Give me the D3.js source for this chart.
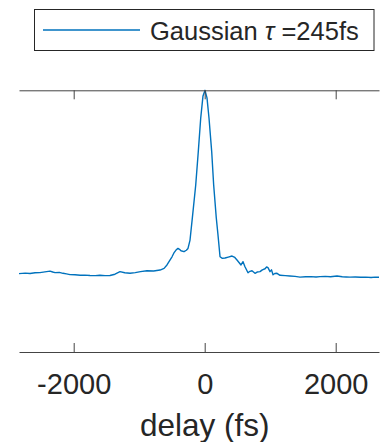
<!DOCTYPE html>
<html>
<head>
<meta charset="utf-8">
<script src="https://cdn.jsdelivr.net/npm/d3@7"></script>
<style>
  body { margin: 0; background: #fff; }
  svg { display: block; font-family: "Liberation Sans", Arial, sans-serif; }
</style>
</head>
<body>
<script>
// delay (fs) and normalised signal
const delay = [-2835, -2740, -2667, -2590, -2515, -2440, -2362, -2320, -2285, -2220, -2163, -2110, -2056, -1980, -1900,
  -1830, -1751, -1670, -1600, -1520, -1446, -1370, -1293, -1220, -1140, -1060, -980, -881, -780, -682, -620, -576,
  -540, -499, -470, -438, -408, -385, -362, -316, -280, -255, -224, -189, -137, -98, -61, -26, 5, 35, 66, 107, 137,
  177, 203, 234, 270, 310, 360, 417, 460, 493, 554, 585, 615, 661, 690, 722, 768, 800, 844, 880, 921, 945, 966, 997,
  1020, 1043, 1070, 1104, 1150, 1230, 1300, 1380, 1455, 1540, 1620, 1700, 1760, 1840, 1920, 2020, 2100, 2160, 2218,
  2300, 2380, 2460, 2540, 2600, 2661]
const signal = [-0.009, -0.006, -0.008, -0.004, -0.003, 0.001, 0.005, 0.0, -0.003, -0.002, -0.007, -0.01, -0.014, -0.015, -0.018,
  -0.017, -0.019, -0.02, -0.018, -0.02, -0.019, -0.012, 0.002, -0.004, -0.007, -0.003, 0.002, 0.007, 0.006, 0.011, 0.02, 0.039,
  0.06, 0.084, 0.105, 0.121, 0.13, 0.125, 0.117, 0.112, 0.12, 0.13, 0.176, 0.297, 0.479, 0.662, 0.846, 0.969, 1.0, 0.958, 0.846, 0.662, 0.479,
  0.297, 0.204, 0.084, 0.075, 0.077, 0.082, 0.088, 0.08, 0.066, 0.039, 0.057, 0.029, -0.004, 0.004, 0.007, -0.007, 0.0, 0.002, 0.012, 0.018, 0.028, 0.024, 0.002,
  0.012, -0.015, -0.008, -0.007, -0.018, -0.02, -0.022, -0.024, -0.028, -0.026, -0.025, -0.027, -0.025, -0.024, -0.026, -0.022, -0.026, -0.027, -0.028,
  -0.027, -0.029, -0.028, -0.03, -0.028, -0.029]
const xTicks = [-2000, 0, 2000]
const legendLabel = "Gaussian "
const legendTau = "\u03c4"
const legendRest = " =245fs"

const width = 383
const height = 442
const mLeft = 19, mRight = 379, mTop = 90.3, mBottom = 352
const blue = "#0072BD"
const ink = "#262626"

const svg = d3.select("body").append("svg")
  .attr("width", width)
  .attr("height", height)

const x = d3.scaleLinear().domain([-2835, 2661]).range([mLeft, mRight])
const y = d3.scaleLinear().domain([-0.44, 1]).range([mBottom, mTop])

// curve
const line = d3.line().x((d, i) => x(delay[i])).y(d => y(d))
svg.append("path")
  .datum(signal)
  .attr("d", line)
  .attr("fill", "none")
  .attr("stroke", blue)
  .attr("stroke-width", 1.4)
  .attr("stroke-linejoin", "round")

// bottom axis, ticks pointing in
const xAxis = d3.axisBottom(x).tickValues(xTicks).tickSizeInner(-9).tickSizeOuter(0).tickFormat(d3.format("d"))
const gx = svg.append("g").attr("transform", `translate(0,${mBottom})`).call(xAxis)
gx.select(".domain").attr("stroke", "#444")
gx.selectAll(".tick line").attr("stroke", "#444")
gx.selectAll("text")
  .attr("y", 42).attr("dy", null)
  .attr("font-size", "29px").attr("font-family", null)
  .attr("fill", ink)
  .text(d => d < 0 ? "-" + Math.abs(d) : d)

// top axis, ticks only
const topAxis = d3.axisTop(x).tickValues(xTicks).tickSizeInner(-9).tickSizeOuter(0).tickFormat("")
const gt = svg.append("g").attr("transform", `translate(0,${mTop})`).call(topAxis)
gt.select(".domain").attr("stroke", "#444")
gt.selectAll(".tick line").attr("stroke", "#444")

svg.append("text")
  .attr("x", x(0))
  .attr("y", 436)
  .attr("text-anchor", "middle")
  .attr("font-size", "31.5px")
  .attr("fill", ink)
  .text("delay (fs)")

// legend
const lg = svg.append("g")
lg.append("rect")
  .attr("x", 34.5).attr("y", 9.5)
  .attr("width", 339.5).attr("height", 41)
  .attr("fill", "#fff")
  .attr("stroke", ink)
  .attr("stroke-width", 1)
lg.append("line")
  .attr("x1", 43).attr("x2", 140)
  .attr("y1", 30).attr("y2", 30)
  .attr("stroke", blue)
  .attr("stroke-width", 1.4)
const lt = lg.append("text")
  .attr("x", 150).attr("y", 39.5)
  .attr("font-size", "25.5px")
  .attr("fill", ink)
lt.append("tspan").text(legendLabel)
lt.append("tspan").attr("font-style", "italic").text(legendTau)
lt.append("tspan").text(legendRest)
</script>
</body>
</html>
